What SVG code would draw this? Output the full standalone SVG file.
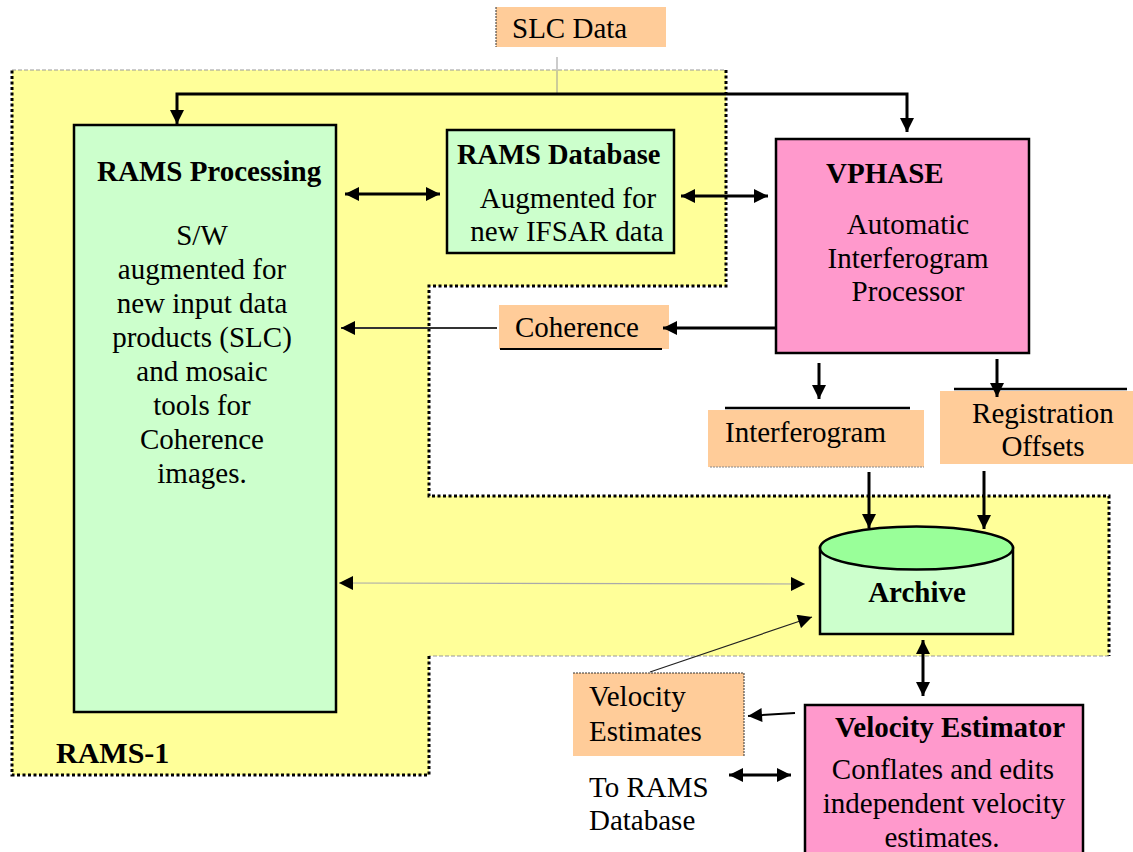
<svg xmlns="http://www.w3.org/2000/svg" width="1133" height="852" viewBox="0 0 1133 852">
<style>
.t{font-family:"Liberation Serif","Times New Roman",serif;font-size:29px;fill:#000}
.b{font-family:"Liberation Serif","Times New Roman",serif;font-size:29px;font-weight:bold;fill:#000}
.c{text-anchor:middle}
.green{fill:#CCFFCC;stroke:#000;stroke-width:2.5}
.pink{fill:#FF99CC;stroke:#000;stroke-width:2.5}
.peach{fill:#FFCC99;stroke:none}
.dot{fill:none;stroke:#000;stroke-width:3;stroke-dasharray:3 2.5}
.dash{fill:none;stroke:#999;stroke-width:1;stroke-dasharray:4 2}
.thick{fill:none;stroke:#000;stroke-width:3}
</style>
<defs>
<marker id="ah" viewBox="0 0 10 10" refX="10" refY="5" markerWidth="17" markerHeight="14" markerUnits="userSpaceOnUse" orient="auto-start-reverse"><path d="M0,0 L10,5 L0,10 z" fill="#000"/></marker>
</defs>

<g id="rams1">
<polygon points="12,70 726,70 726,286 429,286 429,496 1109,496 1109,656 429,656 429,775 12,775" fill="#FFFF99"/>
<path class="dash" d="M12,70 L726,70"/>
<path class="dot" d="M726,70 L726,286 L429,286 L429,496 L1109,496 L1109,656"/>
<path class="dash" d="M1109,656 L429,656"/>
<path class="dot" d="M429,656 L429,775 L12,775 L12,70"/>
<text class="b" x="56" y="763" style="font-size:30px">RAMS-1</text>
</g>

<g id="slc-data">
<rect class="peach" x="496" y="7" width="170" height="40"/>
<path d="M496,7 L496,47" stroke="#333" stroke-width="1" stroke-dasharray="2 1"/>
<text class="t" x="512" y="38">SLC Data</text>
</g>

<g id="rams-processing">
<rect class="green" x="74" y="125" width="262" height="587"/>
<text class="b" x="97" y="181">RAMS Processing</text>
<text class="t c" x="202" y="245">S/W</text>
<text class="t c" x="202" y="279">augmented for</text>
<text class="t c" x="202" y="313">new input data</text>
<text class="t c" x="202" y="347">products (SLC)</text>
<text class="t c" x="202" y="381">and mosaic</text>
<text class="t c" x="202" y="415">tools for</text>
<text class="t c" x="202" y="449">Coherence</text>
<text class="t c" x="202" y="483">images.</text>
</g>

<g id="rams-database">
<rect class="green" x="447" y="130" width="227" height="123"/>
<text class="b" x="457" y="164" style="font-size:28.5px">RAMS Database</text>
<text class="t c" x="568" y="208">Augmented for</text>
<text class="t c" x="567" y="241">new IFSAR data</text>
</g>

<g id="vphase">
<rect class="pink" x="776" y="139" width="253" height="214"/>
<text class="b" x="826" y="183">VPHASE</text>
<text class="t c" x="908" y="234">Automatic</text>
<text class="t c" x="908" y="268">Interferogram</text>
<text class="t c" x="908" y="301">Processor</text>
</g>

<g id="coherence">
<rect class="peach" x="499" y="305" width="170" height="44"/>
<path d="M500,349 L662,349" stroke="#000" stroke-width="2"/>
<text class="t" x="515" y="337">Coherence</text>
</g>

<g id="interferogram">
<path d="M725,408 L910,408" stroke="#000" stroke-width="2.5"/>
<rect class="peach" x="708" y="410" width="216" height="57"/>
<path d="M710,467 L924,467" stroke="#888" stroke-width="1" stroke-dasharray="2 1"/>
<text class="t" x="725" y="442">Interferogram</text>
</g>

<g id="registration-offsets">
<path d="M954,389 L1127,389" stroke="#000" stroke-width="2.5"/>
<rect class="peach" x="940" y="391" width="193" height="73"/>
<text class="t c" x="1043" y="423">Registration</text>
<text class="t c" x="1043" y="456">Offsets</text>
</g>

<g id="archive">
<rect x="820" y="548" width="193" height="86" fill="#CCFFCC" stroke="#000" stroke-width="2.5"/>
<ellipse cx="916.5" cy="548" rx="96.5" ry="21.5" fill="#99FF99" stroke="#000" stroke-width="2.5"/>
<text class="b c" x="917" y="602">Archive</text>
</g>

<g id="velocity-estimates">
<rect class="peach" x="573" y="673" width="171" height="83"/>
<path d="M573,673 L744,673 L744,756" fill="none" stroke="#333" stroke-width="1" stroke-dasharray="2 1"/>
<text class="t" x="589" y="706">Velocity</text>
<text class="t" x="589" y="741">Estimates</text>
</g>

<g id="velocity-estimator">
<rect class="pink" x="805" y="705" width="278" height="160"/>
<text class="b" x="835" y="737">Velocity Estimator</text>
<text class="t c" x="943" y="779">Conflates and edits</text>
<text class="t c" x="944" y="813">independent velocity</text>
<text class="t c" x="942" y="847">estimates.</text>
</g>

<g id="to-rams-database">
<text class="t" x="589" y="797">To RAMS</text>
<text class="t" x="589" y="830">Database</text>
</g>

<g id="connectors">
<path d="M557,57 L557,94" stroke="#999" stroke-width="1"/>
<path class="thick" d="M177,124 L177,94 L907,94 L907,132" marker-start="url(#ah)" marker-end="url(#ah)"/>
<path class="thick" d="M345,194 L440,194" marker-start="url(#ah)" marker-end="url(#ah)"/>
<path class="thick" d="M681,196 L768,196" marker-start="url(#ah)" marker-end="url(#ah)"/>
<path class="thick" d="M776,328 L663,328" marker-end="url(#ah)"/>
<path d="M497,328 L341,328" stroke="#333" stroke-width="2" marker-end="url(#ah)"/>
<path class="thick" d="M819,363 L819,399" marker-end="url(#ah)"/>
<path class="thick" d="M997,359 L997,397" marker-end="url(#ah)"/>
<path class="thick" d="M869,472 L869,528" marker-end="url(#ah)"/>
<path class="thick" d="M984,471 L984,529" marker-end="url(#ah)"/>
<path d="M339,583 L805,584" stroke="#AAA" stroke-width="1.2" marker-start="url(#ah)" marker-end="url(#ah)"/>
<path d="M650,672 L812,617" stroke="#222" stroke-width="1.2" marker-end="url(#ah)"/>
<path class="thick" d="M923,640 L923,696" marker-start="url(#ah)" marker-end="url(#ah)"/>
<path d="M795,713 L748,716" stroke="#000" stroke-width="2" marker-end="url(#ah)"/>
<path class="thick" d="M729,775 L791,775" marker-start="url(#ah)" marker-end="url(#ah)"/>
</g>
</svg>
